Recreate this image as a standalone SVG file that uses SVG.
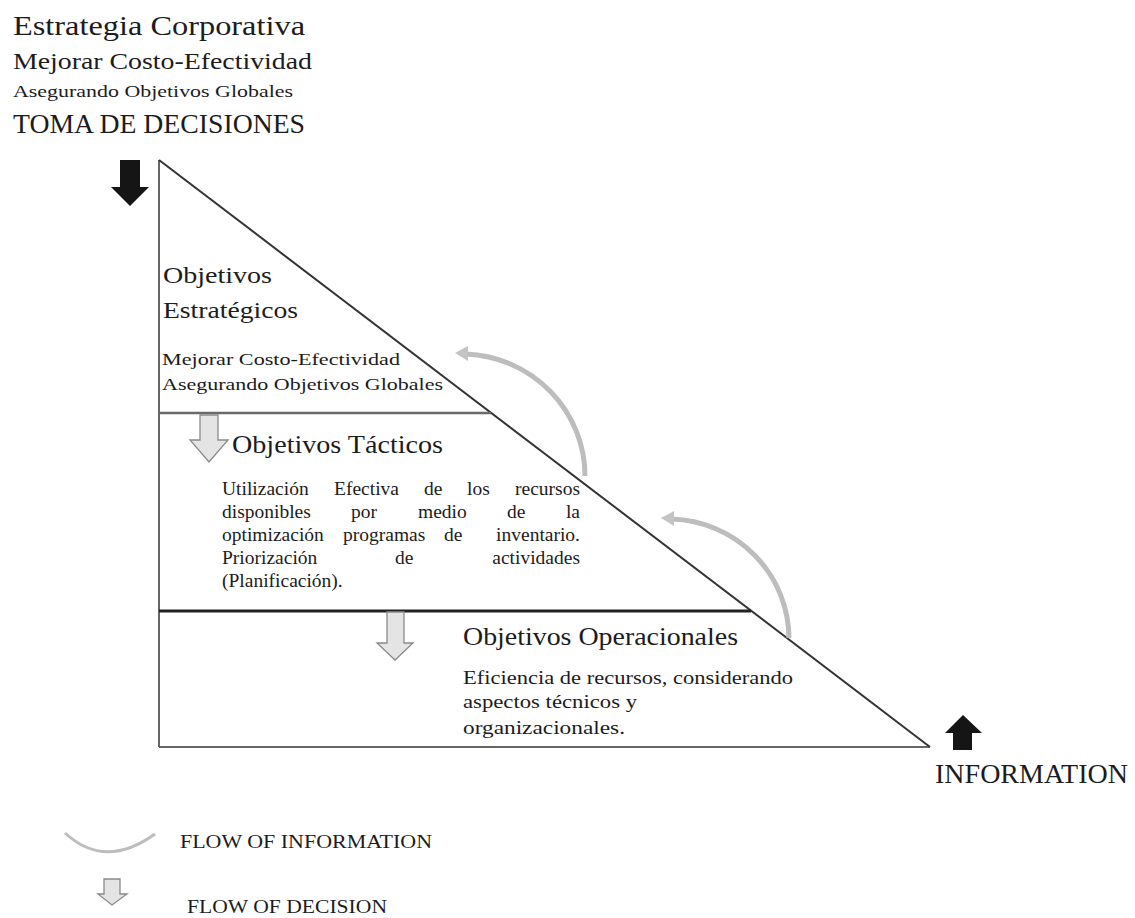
<svg xmlns="http://www.w3.org/2000/svg" width="1135" height="918" viewBox="0 0 1135 918">
  <defs>
    <style>
      .t { font-family: "Liberation Serif", "Times New Roman", serif; fill: #1c1c1c; }
      .frame { stroke: #666; stroke-width: 2; fill: none; }
      .hyp { stroke: #333; stroke-width: 2; fill: none; }
      .info { stroke: #bdbdbd; stroke-width: 5; fill: none; stroke-linecap: butt; }
      .infohead { fill: #c4c4c4; }
      .hollow { fill: #e4e4e4; stroke: #8a8a8a; stroke-width: 1.3; stroke-linejoin: miter; }
      .solid { fill: #151515; }
    </style>
  </defs>

  <rect width="1135" height="918" fill="#ffffff"/>

  <!-- Header texts -->
  <g id="header">
    <text class="t" x="13" y="35" font-size="28" textLength="292" lengthAdjust="spacingAndGlyphs">Estrategia Corporativa</text>
    <text class="t" x="13" y="69" font-size="24" textLength="299" lengthAdjust="spacingAndGlyphs">Mejorar Costo-Efectividad</text>
    <text class="t" x="13" y="97" font-size="17" textLength="280" lengthAdjust="spacingAndGlyphs">Asegurando Objetivos Globales</text>
    <text class="t" x="13" y="133" font-size="27" textLength="292" lengthAdjust="spacingAndGlyphs">TOMA DE DECISIONES</text>
  </g>

  <!-- Triangle frame -->
  <g id="triangle">
    <line class="frame" x1="159" y1="160" x2="159" y2="747"/>
    <line class="frame" x1="159" y1="747" x2="930" y2="747"/>
    <line class="hyp" x1="159" y1="160" x2="930" y2="747"/>
    <line x1="159" y1="413" x2="491" y2="413" stroke="#6a6a6a" stroke-width="2.5"/>
    <line x1="159" y1="611" x2="751" y2="611" stroke="#222" stroke-width="3"/>
  </g>

  <!-- Strategic level -->
  <g id="node-estrategicos">
    <text class="t" x="163" y="283" font-size="24" textLength="109" lengthAdjust="spacingAndGlyphs">Objetivos</text>
    <text class="t" x="163" y="318" font-size="24" textLength="135" lengthAdjust="spacingAndGlyphs">Estratégicos</text>
    <text class="t" x="162" y="365" font-size="17" textLength="238" lengthAdjust="spacingAndGlyphs">Mejorar Costo-Efectividad</text>
    <text class="t" x="162" y="390" font-size="17" textLength="281" lengthAdjust="spacingAndGlyphs">Asegurando Objetivos Globales</text>
  </g>

  <!-- Tactical level -->
  <g id="node-tacticos">
    <text class="t" x="232" y="453" font-size="25" textLength="211" lengthAdjust="spacingAndGlyphs">Objetivos Tácticos</text>
    <g font-size="19.5">
      <text class="t" x="222" y="495">Utilización</text>
      <text class="t" x="334" y="495">Efectiva</text>
      <text class="t" x="424" y="495">de</text>
      <text class="t" x="467" y="495">los</text>
      <text class="t" x="580" y="495" text-anchor="end">recursos</text>

      <text class="t" x="222" y="518">disponibles</text>
      <text class="t" x="351" y="518">por</text>
      <text class="t" x="418" y="518">medio</text>
      <text class="t" x="507" y="518">de</text>
      <text class="t" x="580" y="518" text-anchor="end">la</text>

      <text class="t" x="222" y="541">optimización</text>
      <text class="t" x="343" y="541">programas</text>
      <text class="t" x="444" y="541">de</text>
      <text class="t" x="580" y="541" text-anchor="end">inventario.</text>

      <text class="t" x="222" y="564">Priorización</text>
      <text class="t" x="395" y="564">de</text>
      <text class="t" x="580" y="564" text-anchor="end">actividades</text>

      <text class="t" x="222" y="587">(Planificación).</text>
    </g>
  </g>

  <!-- Operational level -->
  <g id="node-operacionales">
    <text class="t" x="463" y="645" font-size="25" textLength="275" lengthAdjust="spacingAndGlyphs">Objetivos Operacionales</text>
    <text class="t" x="463" y="684" font-size="19" textLength="330" lengthAdjust="spacingAndGlyphs">Eficiencia de recursos, considerando</text>
    <text class="t" x="463" y="708" font-size="19" textLength="174" lengthAdjust="spacingAndGlyphs">aspectos técnicos y</text>
    <text class="t" x="463" y="734" font-size="19" textLength="162" lengthAdjust="spacingAndGlyphs">organizacionales.</text>
  </g>

  <!-- INFORMATION label -->
  <g id="node-information">
    <text class="t" x="935" y="783" font-size="27" textLength="193" lengthAdjust="spacingAndGlyphs">INFORMATION</text>
  </g>

  <!-- Connectors: decision / information arrows -->
  <g id="connectors">
    <!-- black decision arrow (top-left) -->
    <polygon class="solid" points="120,160 140,160 140,187 149,187 130,206 111,187 120,187"/>
    <!-- black information arrow (bottom-right) -->
    <polygon class="solid" points="953,750 972,750 972,733 982,733 963,715 945,733 953,733"/>

    <!-- hollow flow-of-decision arrows -->
    <polygon class="hollow" points="200,415 218,415 218,440 228,440 209,462 190,440 200,440"/>
    <polygon class="hollow" points="387,612 404,612 404,643 413,643 395,660 377,643 387,643"/>

    <!-- curved flow-of-information arrows -->
    <path class="info" d="M 585 476 A 124 122 0 0 0 466 354"/>
    <polygon class="infohead" points="455,353 468,346 468,361"/>
    <path class="info" d="M 789 638 A 121 120 0 0 0 672 519"/>
    <polygon class="infohead" points="661,518 674,511 674,526"/>
  </g>

  <!-- Legend -->
  <g id="legend">
    <path d="M 65 833 Q 105 870 155 834" fill="none" stroke="#bdbdbd" stroke-width="3"/>
    <text class="t" x="180" y="848" font-size="19.5" textLength="252" lengthAdjust="spacingAndGlyphs">FLOW OF INFORMATION</text>
    <polygon class="hollow" points="104,879 120,879 120,894 127,894 112,905 98,894 104,894"/>
    <text class="t" x="187" y="913" font-size="19.5" textLength="200" lengthAdjust="spacingAndGlyphs">FLOW OF DECISION</text>
  </g>
</svg>
